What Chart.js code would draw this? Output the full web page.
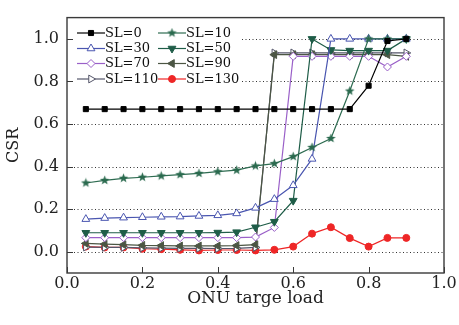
<!DOCTYPE html>
<html>
<head>
<meta charset="utf-8">
<script src="https://cdn.jsdelivr.net/npm/chart.js@4.4.0/dist/chart.umd.min.js"></script>
<style>
html, body { margin: 0; padding: 0; background: #fff; }
</style>
</head>
<body>
<canvas id="chart" width="459" height="325"></canvas>
<script>
// ONU target load (x) and CSR for each SL value
const loads = [0.05, 0.1, 0.15, 0.2, 0.25, 0.3, 0.35, 0.4, 0.45, 0.5, 0.55, 0.6, 0.65, 0.7, 0.75, 0.8, 0.85, 0.9];
const sl0 = [0.67, 0.67, 0.67, 0.67, 0.67, 0.67, 0.67, 0.67, 0.67, 0.67, 0.67, 0.67, 0.67, 0.67, 0.67, 0.78, 0.99, 1.0];
const sl10 = [0.323, 0.335, 0.345, 0.35, 0.356, 0.362, 0.368, 0.376, 0.383, 0.403, 0.414, 0.447, 0.49, 0.532, 0.755, 1.0, 1.0, 1.0];
const sl30 = [0.153, 0.158, 0.16, 0.162, 0.164, 0.165, 0.168, 0.171, 0.18, 0.206, 0.247, 0.312, 0.436, 1.0, 1.0, 1.0, 1.0, 1.0];
const sl50 = [0.089, 0.089, 0.089, 0.089, 0.089, 0.089, 0.089, 0.09, 0.092, 0.115, 0.141, 0.24, 1.0, 0.948, 0.945, 0.945, 0.945, 1.0];
const sl70 = [0.066, 0.066, 0.066, 0.066, 0.066, 0.066, 0.066, 0.066, 0.066, 0.069, 0.114, 0.918, 0.918, 0.918, 0.918, 0.918, 0.868, 0.918];
const sl90 = [0.039, 0.036, 0.033, 0.03, 0.029, 0.027, 0.027, 0.027, 0.029, 0.033, 0.926, 0.926, 0.926, 0.926, 0.926, 0.926, 0.926, 0.918];
const sl110 = [0.022, 0.02, 0.02, 0.018, 0.017, 0.016, 0.016, 0.015, 0.016, 0.02, 0.934, 0.934, 0.934, 0.934, 0.934, 0.934, 0.934, 0.934];
const sl130 = [0.024, 0.02, 0.02, 0.014, 0.012, 0.009, 0.006, 0.008, 0.008, 0.006, 0.009, 0.024, 0.085, 0.115, 0.064, 0.024, 0.065, 0.065];
const yTicks = [0.0, 0.2, 0.4, 0.6, 0.8, 1.0];
const xTicks = [0.0, 0.2, 0.4, 0.6, 0.8, 1.0];

const serif = "'DejaVu Serif', 'Liberation Serif', serif";

function starImage(color) {
    const c = document.createElement('canvas');
    c.width = 11; c.height = 11;
    const g = c.getContext('2d');
    g.beginPath();
    for (let i = 0; i < 10; i++) {
        const r = i % 2 === 0 ? 5 : 2.1;
        const a = -Math.PI / 2 + i * Math.PI / 5;
        g.lineTo(5.5 + r * Math.cos(a), 5.5 + r * Math.sin(a));
    }
    g.closePath();
    g.fillStyle = color;
    g.fill();
    return c;
}

function series(label, values, color, style, opts) {
    return Object.assign({
        label: label,
        data: loads.map((x, i) => ({x: x, y: values[i]})),
        borderColor: color,
        backgroundColor: color,
        pointBorderColor: color,
        pointBackgroundColor: color,
        pointStyle: style,
        pointRadius: 4,
        pointBorderWidth: 1,
        borderWidth: 1.2,
        tension: 0,
    }, opts || {});
}

const datasets = [
    series('SL=0', sl0, '#000000', 'rect', {pointRadius: 3.6}),
    series('SL=10', sl10, '#2e6c51', starImage('#2a6a4e')),
    series('SL=30', sl30, '#4a56b0', 'triangle', {pointBackgroundColor: '#ffffff', pointRadius: 4.5}),
    series('SL=50', sl50, '#1f5d48', 'triangle', {pointRotation: 180, pointRadius: 4.5}),
    series('SL=70', sl70, '#9a60c8', 'rectRot', {pointBackgroundColor: '#ffffff', pointRadius: 4}),
    series('SL=90', sl90, '#4c5644', 'triangle', {pointRotation: -90, pointRadius: 4.5}),
    series('SL=110', sl110, '#55566a', 'triangle', {pointRotation: 90, pointBackgroundColor: '#ffffff', pointRadius: 4.5}),
    series('SL=130', sl130, '#ee2626', 'circle', {pointRadius: 3.5}),
];

const framePlugin = {
    id: 'frame',
    beforeDatasetsDraw(chart) {
        const {ctx, chartArea: a, scales} = chart;
        ctx.save();
        ctx.strokeStyle = '#333';
        ctx.lineWidth = 1;
        ctx.setLineDash([1, 2.5]);
        yTicks.forEach(v => {
            const y = Math.round(scales.y.getPixelForValue(v)) + 0.5;
            ctx.beginPath();
            ctx.moveTo(a.left, y);
            ctx.lineTo(a.right, y);
            ctx.stroke();
        });
        ctx.restore();
    },
    afterDatasetsDraw(chart) {
        const {ctx, chartArea: a, scales} = chart;
        ctx.save();
        // legend box inside the plot
        ctx.fillStyle = '#ffffff';
        ctx.fillRect(74, 23, 168, 65);
        const cols = [77, 158];
        const rows = [33, 48.5, 63.5, 79];
        ctx.font = '13px ' + serif;
        ctx.textBaseline = 'middle';
        chart.data.datasets.forEach((ds, i) => {
            const x0 = cols[i % 2];
            const y = rows[Math.floor(i / 2)];
            ctx.strokeStyle = ds.borderColor;
            ctx.lineWidth = 1.2;
            ctx.setLineDash([]);
            ctx.beginPath();
            ctx.moveTo(x0, y);
            ctx.lineTo(x0 + 28, y);
            ctx.stroke();
            ctx.fillStyle = ds.pointBackgroundColor;
            ctx.strokeStyle = ds.pointBorderColor;
            ctx.lineWidth = 1;
            Chart.helpers.drawPoint(ctx, {
                pointStyle: ds.pointStyle,
                radius: ds.pointRadius,
                rotation: ds.pointRotation || 0,
                borderWidth: 1,
            }, x0 + 14, y);
            ctx.fillStyle = '#111';
            ctx.fillText(ds.label, x0 + 28, y + 0.5);
        });
        // frame and inward ticks
        ctx.strokeStyle = '#3a3a3a';
        ctx.lineWidth = 1.4;
        ctx.strokeRect(a.left, a.top, a.right - a.left, a.bottom - a.top);
        ctx.lineWidth = 1;
        yTicks.forEach(v => {
            const y = Math.round(scales.y.getPixelForValue(v)) + 0.5;
            ctx.beginPath();
            ctx.moveTo(a.left, y);
            ctx.lineTo(a.left + 6, y);
            ctx.stroke();
        });
        xTicks.forEach(v => {
            const x = Math.round(scales.x.getPixelForValue(v)) + 0.5;
            ctx.beginPath();
            ctx.moveTo(x, a.bottom);
            ctx.lineTo(x, a.bottom - 6);
            ctx.stroke();
        });
        ctx.restore();
    }
};

const ctx = document.getElementById('chart').getContext('2d');
const myChart = new Chart(ctx, {
    type: 'line',
    data: {datasets: datasets},
    options: {
        responsive: false,
        animation: false,
        layout: {padding: {left: 0, right: 15, top: 10, bottom: 0}},
        scales: {
            x: {
                type: 'linear',
                min: 0,
                max: 1,
                afterBuildTicks: s => { s.ticks = xTicks.map(v => ({value: v})); },
                afterFit: s => { s.height = 52; },
                grid: {display: false, drawTicks: false},
                border: {display: false},
                ticks: {
                    padding: 1,
                    color: '#222',
                    font: {family: serif, size: 16},
                    callback: v => v.toFixed(1),
                },
                title: {
                    display: true,
                    text: 'ONU targe load',
                    color: '#222',
                    font: {family: serif, size: 17},
                    padding: {top: 0, bottom: 16},
                },
            },
            y: {
                min: -0.1,
                max: 1.1,
                afterBuildTicks: s => { s.ticks = yTicks.map(v => ({value: v})); },
                afterFit: s => { s.width = 67; },
                grid: {display: false, drawTicks: false},
                border: {display: false},
                ticks: {
                    padding: 8,
                    color: '#222',
                    font: {family: serif, size: 16},
                    callback: v => v.toFixed(1),
                },
                title: {
                    display: true,
                    text: 'CSR',
                    color: '#222',
                    font: {family: serif, size: 16},
                    padding: {top: 4, bottom: 4},
                },
            },
        },
        plugins: {
            legend: {display: false},
            title: {display: false},
            tooltip: {enabled: false},
        },
    },
    plugins: [framePlugin],
});
</script>
</body>
</html>
